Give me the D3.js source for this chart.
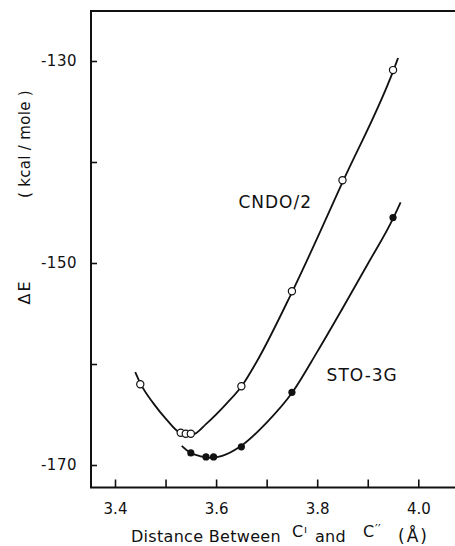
<!DOCTYPE html>
<html>
<head>
<meta charset="utf-8">
<script src="https://cdn.jsdelivr.net/npm/d3@7"></script>
<style>
  body { margin: 0; background: #fff; }
  svg { display: block; }
  text { font-family: "DejaVu Sans", sans-serif; fill: #111; }
</style>
</head>
<body>
<div id="chart"></div>
<script>
// ΔE vs C'–C'' distance, CNDO/2 and STO-3G

// measured points (markers)
const cndoX = [3.45, 3.53, 3.54, 3.55, 3.65, 3.75, 3.85, 3.95];
const cndoE = [-162.0, -166.8, -166.9, -166.9, -162.2, -152.8, -141.8, -130.9];
const stoX = [3.55, 3.58, 3.595, 3.65, 3.75, 3.95];
const stoE = [-168.8, -169.2, -169.2, -168.2, -162.8, -145.5];

// smooth fitted curves
const cndoCurveX = [3.440, 3.451, 3.476, 3.502, 3.529, 3.553, 3.581, 3.621, 3.652, 3.680, 3.751, 3.852, 3.951, 3.960];
const cndoCurveE = [-160.8, -162.0, -163.9, -165.5, -166.8, -167.0, -165.9, -163.9, -162.1, -159.8, -152.8, -141.8, -130.9, -129.7];
const stoCurveX = [3.532, 3.548, 3.570, 3.590, 3.612, 3.647, 3.700, 3.751, 3.800, 3.850, 3.900, 3.951, 3.965];
const stoCurveE = [-168.1, -168.75, -169.15, -169.3, -169.1, -168.2, -165.8, -162.8, -158.8, -154.5, -150.1, -145.5, -144.0];

const xTicks = [3.4, 3.5, 3.6, 3.7, 3.8, 3.9, 4.0];
const xTickLabels = ["3.4", "", "3.6", "", "3.8", "", "4.0"];
const yTicks = [-170, -160, -150, -140, -130];
const yTickLabels = ["-170", "", "-150", "", "-130"];

const labels = [
  { text: "CNDO/2", x: 3.717, e: -144.6 },
  { text: "STO-3G", x: 3.889, e: -161.7 }
];

const width = 455;
const height = 546;
const frame = { left: 91, top: 11, right: 455, bottom: 487.5 };

const x = d3.scaleLinear().domain([3.4, 4.0]).range([115, 418.3]);
const y = d3.scaleLinear().domain([-170, -130]).range([465, 61]);

const svg = d3.select("#chart").append("svg")
  .attr("width", width)
  .attr("height", height);

// frame: left, top, bottom (right side runs off the page)
svg.append("path")
  .attr("d", `M${frame.right},${frame.top}H${frame.left}V${frame.bottom}H${frame.right}`)
  .attr("fill", "none")
  .attr("stroke", "#111")
  .attr("stroke-width", 2);

const xAxis = svg.append("g")
  .attr("transform", `translate(0,${frame.bottom})`)
  .call(d3.axisBottom(x)
    .tickValues(xTicks)
    .tickSizeInner(-8)
    .tickSizeOuter(0)
    .tickPadding(16)
    .tickFormat((d, i) => xTickLabels[i]));
xAxis.select(".domain").remove();
xAxis.selectAll(".tick line").attr("stroke", "#111").attr("stroke-width", 1.6);
xAxis.selectAll(".tick text")
  .style("font-size", "15px")
  .style("font-family", "DejaVu Sans, sans-serif")
  .attr("fill", "#111");

const yAxis = svg.append("g")
  .attr("transform", `translate(${frame.left},0)`)
  .call(d3.axisLeft(y)
    .tickValues(yTicks)
    .tickSizeInner(-6)
    .tickSizeOuter(0)
    .tickPadding(14)
    .tickFormat((d, i) => yTickLabels[i]));
yAxis.select(".domain").remove();
yAxis.selectAll(".tick line").attr("stroke", "#111").attr("stroke-width", 1.6);
yAxis.selectAll(".tick text")
  .style("font-size", "15px")
  .style("font-family", "DejaVu Sans, sans-serif")
  .style("letter-spacing", "0.5px")
  .attr("fill", "#111");

// curves
const line = d3.line()
  .x(d => x(d[0]))
  .y(d => y(d[1]))
  .curve(d3.curveMonotoneX);

const curves = [
  d3.zip(cndoCurveX, cndoCurveE),
  d3.zip(stoCurveX, stoCurveE)
];
svg.selectAll("path.curve")
  .data(curves)
  .join("path")
  .attr("class", "curve")
  .attr("d", line)
  .attr("fill", "none")
  .attr("stroke", "#111")
  .attr("stroke-width", 1.8);

// markers
svg.append("g").selectAll("circle")
  .data(d3.zip(cndoX, cndoE))
  .join("circle")
  .attr("cx", d => x(d[0]))
  .attr("cy", d => y(d[1]))
  .attr("r", 3.6)
  .attr("fill", "#fff")
  .attr("stroke", "#111")
  .attr("stroke-width", 1.2);

svg.append("g").selectAll("circle")
  .data(d3.zip(stoX, stoE))
  .join("circle")
  .attr("cx", d => x(d[0]))
  .attr("cy", d => y(d[1]))
  .attr("r", 3.6)
  .attr("fill", "#111");

// curve labels
svg.selectAll("text.series")
  .data(labels)
  .join("text")
  .attr("class", "series")
  .attr("x", d => x(d.x))
  .attr("y", d => y(d.e))
  .attr("text-anchor", "middle")
  .style("font-size", "17px")
  .style("letter-spacing", "1px")
  .text(d => d.text);

// y title
svg.append("text")
  .attr("transform", "translate(30,144) rotate(-90)")
  .attr("text-anchor", "middle")
  .style("font-size", "15px")
  .style("letter-spacing", "0.3px")
  .text("( kcal / mole )");

svg.append("text")
  .attr("transform", "translate(30,292) rotate(-90)")
  .attr("text-anchor", "middle")
  .style("font-size", "16px")
  .style("letter-spacing", "2px")
  .text("ΔE");

// x title, pieces placed to follow the lettering
const xt = svg.append("text")
  .attr("y", 542)
  .style("font-size", "16px")
  .style("letter-spacing", "0.3px");
xt.append("tspan").attr("x", 131).text("Distance Between");
xt.append("tspan").attr("x", 292).attr("y", 537).text("C");
xt.append("tspan").attr("x", 304).attr("y", 533).style("font-size", "11px").text("ı");
xt.append("tspan").attr("x", 315).attr("y", 542).text("and");
xt.append("tspan").attr("x", 363).attr("y", 537).text("C");
xt.append("tspan").attr("x", 375).attr("y", 533).style("font-size", "12px").text("′′");
xt.append("tspan").attr("x", 398).attr("y", 542).style("font-size", "17px").style("letter-spacing", "2px").text("(Å)");
</script>
</body>
</html>
